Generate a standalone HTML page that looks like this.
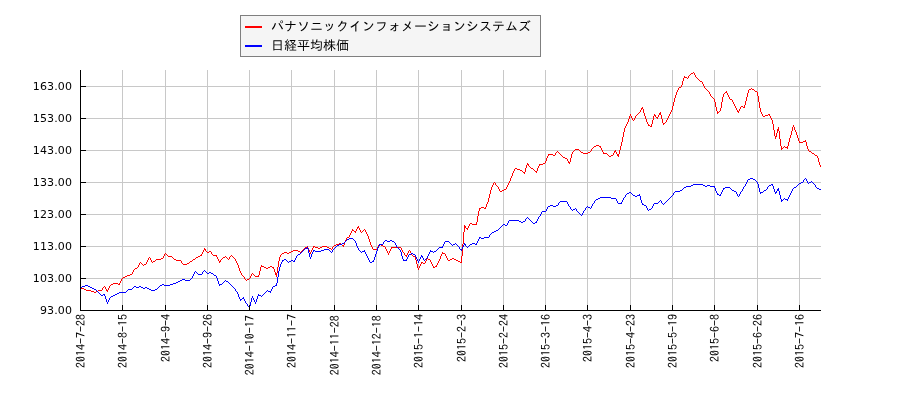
<!DOCTYPE html>
<html lang="ja"><head><meta charset="utf-8"><title>chart</title>
<style>
html,body{margin:0;padding:0;background:#fff;}
body{width:900px;height:400px;overflow:hidden;position:relative;}
svg{position:absolute;left:0;top:0;display:block;}
.yl{font-family:"DejaVu Sans","Liberation Sans",sans-serif;font-size:11px;letter-spacing:0.13px;fill:#000;text-anchor:end;}
.xl{font-family:"IPAGothic","Liberation Mono","Noto Sans CJK JP",monospace;font-size:12px;fill:#000;text-anchor:end;}
.lg{font-family:"Liberation Sans","IPAGothic","Noto Sans CJK JP",sans-serif;font-size:13px;fill:#000;}
</style></head><body>
<svg width="900" height="400" viewBox="0 0 900 400">
<rect x="0" y="0" width="900" height="400" fill="#fff"/>
<g shape-rendering="crispEdges" fill="#c8c8c8">
<rect x="122" y="70" width="1" height="240"/>
<rect x="165" y="70" width="1" height="240"/>
<rect x="207" y="70" width="1" height="240"/>
<rect x="249" y="70" width="1" height="240"/>
<rect x="291" y="70" width="1" height="240"/>
<rect x="334" y="70" width="1" height="240"/>
<rect x="376" y="70" width="1" height="240"/>
<rect x="418" y="70" width="1" height="240"/>
<rect x="461" y="70" width="1" height="240"/>
<rect x="503" y="70" width="1" height="240"/>
<rect x="545" y="70" width="1" height="240"/>
<rect x="587" y="70" width="1" height="240"/>
<rect x="630" y="70" width="1" height="240"/>
<rect x="672" y="70" width="1" height="240"/>
<rect x="714" y="70" width="1" height="240"/>
<rect x="757" y="70" width="1" height="240"/>
<rect x="799" y="70" width="1" height="240"/>
<rect x="81" y="86" width="740" height="1"/>
<rect x="81" y="118" width="740" height="1"/>
<rect x="81" y="150" width="740" height="1"/>
<rect x="81" y="182" width="740" height="1"/>
<rect x="81" y="214" width="740" height="1"/>
<rect x="81" y="246" width="740" height="1"/>
<rect x="81" y="278" width="740" height="1"/>
</g>
<path fill="none" stroke="#ff0000" stroke-width="1" shape-rendering="crispEdges" d="M102.5 288v2M105.5 287v2M106.5 289v2M107.5 290v2M108.5 288v2M109.5 286v2M119.5 283v2M120.5 281v2M121.5 279v2M132.5 272v2M133.5 270v2M138.5 265v2M139.5 263v2M146.5 262v2M147.5 260v2M148.5 258v2M150.5 258v2M151.5 260v2M163.5 256v2M164.5 254v2M181.5 261v2M201.5 254v2M202.5 252v2M203.5 250v2M204.5 248v2M205.5 249v2M211.5 252v2M216.5 255v2M217.5 257v2M218.5 259v2M219.5 261v2M220.5 260v2M229.5 257v2M235.5 259v2M236.5 261v2M237.5 263v2M238.5 265v3M239.5 268v3M240.5 271v2M241.5 273v2M244.5 277v2M250.5 276v2M251.5 274v2M258.5 275v2M259.5 271v4M260.5 267v4M261.5 265v2M273.5 267v2M274.5 269v3M275.5 272v3M276.5 273v4M277.5 267v6M278.5 261v6M279.5 257v4M280.5 255v2M307.5 246v2M308.5 248v2M309.5 250v2M310.5 252v2M311.5 250v2M312.5 248v2M313.5 246v2M332.5 247v2M343.5 245v2M344.5 242v3M345.5 240v2M346.5 238v2M349.5 235v2M350.5 233v2M351.5 231v2M352.5 229v2M355.5 231v2M356.5 229v2M357.5 227v2M358.5 226v2M359.5 228v2M360.5 230v2M365.5 230v2M366.5 232v2M367.5 234v2M368.5 236v3M369.5 239v3M370.5 242v3M371.5 245v2M372.5 247v2M377.5 247v2M378.5 245v2M385.5 247v2M386.5 249v2M387.5 251v2M388.5 253v2M389.5 251v2M390.5 249v2M391.5 247v2M401.5 248v2M402.5 250v2M404.5 253v2M406.5 255v2M407.5 253v2M408.5 251v2M410.5 251v2M411.5 253v2M415.5 257v3M416.5 260v4M417.5 264v4M418.5 268v2M419.5 266v2M420.5 264v2M421.5 262v2M425.5 261v2M426.5 259v2M430.5 260v2M431.5 262v2M432.5 264v2M433.5 266v2M436.5 265v2M437.5 263v2M438.5 261v2M439.5 259v2M440.5 256v3M441.5 254v2M442.5 252v2M445.5 254v2M446.5 256v2M447.5 258v2M461.5 256v7M462.5 244v12M463.5 232v12M464.5 225v7M465.5 226v2M467.5 228v2M468.5 226v2M469.5 224v2M476.5 222v3M477.5 216v6M478.5 211v5M479.5 208v3M485.5 207v2M486.5 204v3M487.5 202v2M488.5 198v4M489.5 194v4M490.5 190v4M491.5 187v3M492.5 185v2M493.5 183v2M495.5 183v2M498.5 187v2M499.5 189v2M506.5 187v2M507.5 185v2M508.5 183v2M509.5 181v2M510.5 178v3M511.5 176v2M512.5 173v3M513.5 171v2M514.5 169v2M524.5 172v2M525.5 168v4M526.5 165v3M527.5 163v2M528.5 164v2M536.5 171v2M537.5 168v3M538.5 166v2M539.5 164v2M545.5 161v2M546.5 158v3M547.5 156v2M548.5 154v2M555.5 153v2M567.5 159v2M568.5 161v2M569.5 162v2M570.5 158v4M571.5 154v4M572.5 152v2M591.5 149v2M600.5 146v2M601.5 148v2M602.5 150v2M603.5 152v2M613.5 153v2M614.5 151v2M615.5 150v2M616.5 152v2M617.5 154v2M618.5 154v3M619.5 150v4M620.5 146v4M621.5 142v4M622.5 137v5M623.5 132v5M624.5 128v4M625.5 126v2M626.5 124v2M627.5 122v2M628.5 119v3M629.5 116v3M630.5 114v2M631.5 116v2M632.5 118v2M634.5 118v2M635.5 116v2M640.5 110v2M641.5 108v2M642.5 107v2M643.5 109v4M644.5 113v3M645.5 116v3M646.5 119v3M647.5 122v2M648.5 124v2M651.5 124v3M652.5 120v4M653.5 116v4M654.5 114v2M655.5 115v2M657.5 117v2M658.5 115v2M659.5 113v2M660.5 112v3M661.5 115v4M662.5 119v4M663.5 123v2M666.5 120v2M667.5 118v2M668.5 116v2M669.5 114v2M670.5 112v2M671.5 110v2M672.5 106v4M673.5 102v4M674.5 98v4M675.5 95v3M676.5 92v3M677.5 90v2M678.5 88v2M681.5 85v2M682.5 81v4M683.5 78v3M684.5 76v2M688.5 76v2M694.5 73v2M695.5 75v2M702.5 82v2M703.5 84v2M704.5 86v2M709.5 92v2M710.5 94v2M714.5 99v3M715.5 102v5M716.5 107v4M717.5 111v3M720.5 108v3M721.5 102v6M722.5 97v5M723.5 94v3M726.5 91v2M727.5 93v2M728.5 95v2M729.5 97v2M732.5 100v2M733.5 102v2M734.5 104v2M735.5 106v2M736.5 108v2M737.5 110v2M738.5 111v2M739.5 109v2M740.5 107v2M744.5 105v3M745.5 101v4M746.5 97v4M747.5 93v4M748.5 90v3M757.5 92v4M758.5 96v6M759.5 102v6M760.5 108v4M761.5 112v2M762.5 114v2M769.5 114v2M770.5 116v2M771.5 118v2M772.5 120v4M773.5 124v6M774.5 130v6M775.5 136v3M776.5 133v4M777.5 129v4M778.5 127v4M779.5 131v8M780.5 139v7M781.5 146v4M787.5 146v3M788.5 142v4M789.5 138v4M790.5 135v3M791.5 131v4M792.5 127v4M793.5 125v2M794.5 127v3M795.5 130v2M796.5 132v3M797.5 135v3M798.5 138v3M799.5 141v2M805.5 140v2M806.5 142v4M807.5 146v3M808.5 149v2M817.5 156v2M818.5 158v4M819.5 162v3M820.5 165v2M693 72.5h1M691 73.5h2M690 74.5h1M689 75.5h1M685 77.5h2M696 77.5h1M687 78.5h1M697 78.5h1M698 79.5h1M699 80.5h1M700 81.5h2M679 87.5h2M705 88.5h1M751 88.5h1M706 89.5h1M749 89.5h2M752 89.5h2M707 90.5h1M754 90.5h1M708 91.5h1M755 91.5h2M725 92.5h1M724 93.5h1M711 96.5h1M712 97.5h1M713 98.5h1M730 99.5h2M741 106.5h2M743 107.5h1M719 111.5h1M639 112.5h1M718 112.5h1M638 113.5h1M637 114.5h1M768 114.5h1M636 115.5h1M765 115.5h3M763 116.5h2M656 117.5h1M633 120.5h1M665 122.5h1M664 123.5h1M649 125.5h1M650 126.5h1M803 141.5h2M800 142.5h3M596 145.5h3M594 146.5h2M599 146.5h1M784 146.5h1M593 147.5h1M783 147.5h1M785 147.5h2M592 148.5h1M782 148.5h1M575 149.5h4M574 150.5h1M579 150.5h1M557 151.5h1M573 151.5h1M580 151.5h1M590 151.5h1M809 151.5h2M556 152.5h1M558 152.5h1M581 152.5h2M588 152.5h2M811 152.5h1M559 153.5h1M583 153.5h5M604 153.5h3M812 153.5h2M549 154.5h4M560 154.5h1M607 154.5h1M814 154.5h1M553 155.5h2M561 155.5h1M608 155.5h1M611 155.5h2M815 155.5h2M562 156.5h1M609 156.5h2M563 157.5h2M565 158.5h2M543 163.5h2M540 164.5h3M529 166.5h1M530 167.5h1M515 168.5h2M531 168.5h2M517 169.5h3M533 169.5h1M520 170.5h2M534 170.5h1M522 171.5h1M535 171.5h1M523 172.5h1M494 182.5h1M496 185.5h1M497 186.5h1M504 189.5h2M502 190.5h2M500 191.5h2M481 207.5h3M480 208.5h1M484 208.5h1M470 223.5h2M472 224.5h4M466 228.5h1M364 229.5h1M353 230.5h1M363 230.5h1M354 231.5h1M362 231.5h1M361 232.5h1M347 237.5h2M339 243.5h2M336 244.5h3M341 244.5h1M379 244.5h2M334 245.5h2M342 245.5h1M381 245.5h2M314 246.5h1M322 246.5h5M333 246.5h1M383 246.5h2M305 247.5h2M315 247.5h3M320 247.5h2M327 247.5h2M392 247.5h9M304 248.5h1M318 248.5h2M329 248.5h2M303 249.5h1M331 249.5h1M373 249.5h4M293 250.5h5M302 250.5h1M409 250.5h1M206 251.5h1M209 251.5h2M291 251.5h2M298 251.5h2M301 251.5h1M207 252.5h2M284 252.5h3M289 252.5h2M300 252.5h1M403 252.5h1M165 253.5h1M282 253.5h2M287 253.5h2M443 253.5h2M166 254.5h1M212 254.5h1M281 254.5h1M167 255.5h1M200 255.5h1M213 255.5h3M231 255.5h1M405 255.5h1M412 255.5h1M168 256.5h4M198 256.5h2M225 256.5h1M230 256.5h1M232 256.5h1M413 256.5h2M149 257.5h1M172 257.5h1M196 257.5h2M223 257.5h2M226 257.5h1M233 257.5h1M161 258.5h2M173 258.5h1M195 258.5h1M222 258.5h1M227 258.5h1M234 258.5h1M427 258.5h1M452 258.5h2M156 259.5h5M174 259.5h2M193 259.5h2M221 259.5h1M228 259.5h1M428 259.5h2M450 259.5h2M454 259.5h2M155 260.5h1M176 260.5h5M192 260.5h1M448 260.5h2M456 260.5h2M153 261.5h2M190 261.5h2M458 261.5h2M140 262.5h1M152 262.5h1M189 262.5h1M422 262.5h1M460 262.5h1M141 263.5h1M182 263.5h1M187 263.5h2M423 263.5h2M142 264.5h1M144 264.5h2M183 264.5h4M143 265.5h1M262 266.5h2M270 266.5h2M435 266.5h1M137 267.5h1M264 267.5h2M268 267.5h2M272 267.5h1M434 267.5h1M135 268.5h2M266 268.5h2M134 269.5h1M252 273.5h1M130 274.5h2M253 274.5h1M127 275.5h3M242 275.5h1M254 275.5h1M125 276.5h2M243 276.5h1M255 276.5h3M123 277.5h2M122 278.5h1M249 278.5h1M245 279.5h1M247 279.5h2M246 280.5h1M113 283.5h5M111 284.5h2M118 284.5h1M110 285.5h1M104 286.5h1M103 287.5h1M80 288.5h4M84 289.5h2M86 290.5h5M98 290.5h4M91 291.5h3M96 291.5h2M94 292.5h2"/>
<path fill="none" stroke="#0000ff" stroke-width="1" shape-rendering="crispEdges" d="M104.5 294v2M105.5 296v3M106.5 299v3M107.5 302v2M108.5 300v2M109.5 298v2M192.5 276v2M193.5 274v2M194.5 272v2M202.5 272v2M216.5 276v2M217.5 278v3M218.5 281v3M219.5 284v2M235.5 289v2M237.5 292v2M238.5 294v3M239.5 297v2M240.5 299v2M243.5 297v2M244.5 299v2M245.5 301v2M247.5 304v2M249.5 306v2M250.5 302v4M251.5 298v4M252.5 296v2M253.5 298v2M254.5 300v2M255.5 302v2M256.5 299v3M257.5 296v3M258.5 294v2M270.5 291v2M271.5 289v2M272.5 287v2M276.5 283v3M277.5 277v6M278.5 271v6M279.5 267v4M280.5 264v3M281.5 262v2M282.5 260v2M294.5 260v2M295.5 258v2M296.5 256v2M307.5 247v2M308.5 249v4M309.5 253v4M310.5 257v2M311.5 254v3M312.5 252v2M313.5 250v2M332.5 250v2M355.5 241v2M356.5 243v3M357.5 246v2M358.5 248v2M364.5 250v2M365.5 252v2M366.5 254v2M367.5 256v2M368.5 258v2M369.5 260v2M373.5 260v2M374.5 257v3M375.5 254v3M376.5 251v3M377.5 248v3M378.5 246v2M379.5 244v2M383.5 242v2M395.5 243v2M396.5 245v2M400.5 250v2M401.5 252v4M402.5 256v3M403.5 259v2M406.5 259v2M407.5 257v2M408.5 255v2M415.5 255v2M416.5 257v2M417.5 259v2M418.5 261v2M419.5 259v2M420.5 257v2M421.5 255v2M422.5 256v2M423.5 258v2M427.5 256v2M428.5 254v2M429.5 252v2M430.5 250v2M442.5 246v2M443.5 244v2M444.5 242v2M459.5 247v2M461.5 249v2M462.5 247v2M463.5 245v2M464.5 243v2M465.5 244v2M476.5 243v2M477.5 241v2M478.5 239v2M479.5 237v2M489.5 235v2M507.5 223v2M508.5 221v2M525.5 219v2M536.5 221v2M537.5 219v2M538.5 217v2M540.5 214v2M541.5 212v2M546.5 209v2M547.5 207v2M558.5 203v2M567.5 202v2M568.5 204v2M570.5 207v2M576.5 209v2M582.5 213v2M583.5 211v2M585.5 208v2M591.5 206v2M592.5 204v2M594.5 201v2M616.5 199v2M617.5 201v2M621.5 202v2M622.5 200v2M623.5 198v2M625.5 195v2M639.5 194v2M640.5 196v4M641.5 200v3M642.5 203v2M646.5 206v2M647.5 208v2M652.5 206v2M653.5 204v2M661.5 201v2M673.5 193v2M714.5 186v2M715.5 188v3M716.5 191v2M717.5 193v2M720.5 194v2M721.5 192v2M722.5 190v2M723.5 188v2M736.5 192v2M737.5 194v2M739.5 194v2M740.5 192v2M742.5 189v2M743.5 187v2M745.5 184v2M746.5 182v2M747.5 180v2M757.5 182v2M758.5 184v4M759.5 188v4M760.5 192v2M767.5 187v2M772.5 184v2M773.5 186v3M774.5 189v3M775.5 192v2M776.5 191v2M777.5 189v2M778.5 188v3M779.5 191v4M780.5 195v4M781.5 199v3M787.5 199v2M788.5 197v2M789.5 195v2M790.5 193v2M791.5 191v2M792.5 189v2M803.5 180v2M806.5 179v2M807.5 181v2M815.5 185v2M750 178.5h3M805 178.5h1M748 179.5h2M753 179.5h2M804 179.5h1M755 180.5h1M756 181.5h1M811 181.5h1M801 182.5h2M809 182.5h2M812 182.5h1M799 183.5h2M808 183.5h1M813 183.5h1M693 184.5h10M771 184.5h1M798 184.5h1M814 184.5h1M691 185.5h2M703 185.5h2M707 185.5h3M769 185.5h2M797 185.5h1M686 186.5h5M705 186.5h2M710 186.5h4M744 186.5h1M768 186.5h1M796 186.5h1M684 187.5h2M725 187.5h5M794 187.5h2M816 187.5h1M683 188.5h1M724 188.5h1M730 188.5h1M793 188.5h1M817 188.5h2M682 189.5h1M731 189.5h1M766 189.5h1M819 189.5h2M680 190.5h2M732 190.5h2M764 190.5h2M675 191.5h5M734 191.5h2M741 191.5h1M763 191.5h1M629 192.5h2M674 192.5h1M761 192.5h2M627 193.5h2M631 193.5h1M626 194.5h1M632 194.5h1M718 194.5h1M633 195.5h2M637 195.5h2M672 195.5h1M719 195.5h1M635 196.5h2M671 196.5h1M738 196.5h1M600 197.5h11M624 197.5h1M670 197.5h1M598 198.5h2M611 198.5h5M669 198.5h1M784 198.5h1M596 199.5h2M668 199.5h1M783 199.5h1M785 199.5h2M595 200.5h1M660 200.5h1M667 200.5h1M782 200.5h1M560 201.5h7M659 201.5h1M666 201.5h1M559 202.5h1M658 202.5h1M665 202.5h1M593 203.5h1M618 203.5h3M654 203.5h4M662 203.5h1M664 203.5h1M643 204.5h1M663 204.5h1M550 205.5h3M556 205.5h2M644 205.5h2M548 206.5h2M553 206.5h3M569 206.5h1M587 206.5h1M586 207.5h1M588 207.5h2M575 208.5h1M590 208.5h1M651 208.5h1M571 209.5h1M573 209.5h2M649 209.5h2M572 210.5h1M584 210.5h1M648 210.5h1M542 211.5h4M577 211.5h1M578 212.5h1M579 213.5h1M580 214.5h1M581 215.5h1M539 216.5h1M527 217.5h1M526 218.5h1M528 218.5h1M529 219.5h1M509 220.5h10M530 220.5h1M519 221.5h2M523 221.5h2M531 221.5h1M521 222.5h2M532 222.5h1M535 222.5h1M533 223.5h2M503 224.5h2M502 225.5h1M505 225.5h2M501 226.5h1M500 227.5h1M499 228.5h1M498 229.5h1M496 230.5h2M494 231.5h2M492 232.5h2M491 233.5h1M490 234.5h1M480 237.5h1M484 237.5h5M349 238.5h4M481 238.5h3M347 239.5h2M353 239.5h1M346 240.5h1M354 240.5h1M385 240.5h2M390 240.5h2M345 241.5h1M384 241.5h1M387 241.5h3M392 241.5h2M445 241.5h4M344 242.5h1M394 242.5h1M449 242.5h1M342 243.5h2M450 243.5h1M455 243.5h1M472 243.5h3M339 244.5h3M380 244.5h3M451 244.5h1M453 244.5h2M456 244.5h1M470 244.5h2M475 244.5h1M337 245.5h2M452 245.5h1M457 245.5h1M469 245.5h1M336 246.5h1M458 246.5h1M466 246.5h1M468 246.5h1M335 247.5h1M397 247.5h1M439 247.5h3M467 247.5h1M305 248.5h2M334 248.5h1M398 248.5h1M438 248.5h1M304 249.5h1M324 249.5h5M333 249.5h1M399 249.5h1M437 249.5h1M460 249.5h1M303 250.5h1M314 250.5h1M321 250.5h3M329 250.5h1M359 250.5h1M436 250.5h1M302 251.5h1M315 251.5h6M330 251.5h1M360 251.5h1M362 251.5h2M431 251.5h2M434 251.5h2M301 252.5h1M331 252.5h1M361 252.5h1M433 252.5h1M300 253.5h1M411 253.5h2M298 254.5h2M409 254.5h2M413 254.5h2M297 255.5h1M426 258.5h1M284 259.5h2M425 259.5h1M283 260.5h1M286 260.5h1M291 260.5h2M404 260.5h2M424 260.5h1M287 261.5h1M289 261.5h2M293 261.5h1M372 261.5h1M288 262.5h1M370 262.5h2M204 270.5h1M195 271.5h1M203 271.5h1M205 271.5h1M196 272.5h1M206 272.5h1M209 272.5h2M197 273.5h1M207 273.5h2M211 273.5h2M198 274.5h4M213 274.5h1M214 275.5h2M191 278.5h1M182 279.5h3M190 279.5h1M180 280.5h2M185 280.5h5M225 280.5h1M178 281.5h2M224 281.5h1M226 281.5h2M176 282.5h2M223 282.5h1M228 282.5h1M173 283.5h3M222 283.5h1M229 283.5h1M162 284.5h2M170 284.5h3M220 284.5h2M230 284.5h1M85 285.5h3M160 285.5h2M164 285.5h6M231 285.5h1M275 285.5h1M82 286.5h3M88 286.5h2M134 286.5h2M139 286.5h2M159 286.5h1M232 286.5h1M273 286.5h2M80 287.5h2M90 287.5h2M133 287.5h1M136 287.5h3M141 287.5h2M145 287.5h2M158 287.5h1M233 287.5h1M92 288.5h2M132 288.5h1M143 288.5h2M147 288.5h2M157 288.5h1M234 288.5h1M94 289.5h2M128 289.5h4M149 289.5h2M155 289.5h2M96 290.5h1M127 290.5h1M151 290.5h4M267 290.5h1M97 291.5h1M126 291.5h1M236 291.5h1M266 291.5h1M268 291.5h2M98 292.5h1M119 292.5h7M265 292.5h1M99 293.5h1M117 293.5h2M264 293.5h1M100 294.5h1M103 294.5h1M115 294.5h2M263 294.5h1M101 295.5h2M113 295.5h2M259 295.5h2M262 295.5h1M111 296.5h2M261 296.5h1M110 297.5h1M242 298.5h1M241 299.5h1M246 303.5h1M248 306.5h1"/>
<g shape-rendering="crispEdges" fill="#000">
<rect x="80" y="70" width="1" height="241"/>
<rect x="80" y="310" width="741" height="1"/>
<rect x="81" y="86" width="5" height="1"/>
<rect x="81" y="118" width="5" height="1"/>
<rect x="81" y="150" width="5" height="1"/>
<rect x="81" y="182" width="5" height="1"/>
<rect x="81" y="214" width="5" height="1"/>
<rect x="81" y="246" width="5" height="1"/>
<rect x="81" y="278" width="5" height="1"/>
<rect x="122" y="305" width="1" height="5"/>
<rect x="165" y="305" width="1" height="5"/>
<rect x="207" y="305" width="1" height="5"/>
<rect x="249" y="305" width="1" height="5"/>
<rect x="291" y="305" width="1" height="5"/>
<rect x="334" y="305" width="1" height="5"/>
<rect x="376" y="305" width="1" height="5"/>
<rect x="418" y="305" width="1" height="5"/>
<rect x="461" y="305" width="1" height="5"/>
<rect x="503" y="305" width="1" height="5"/>
<rect x="545" y="305" width="1" height="5"/>
<rect x="587" y="305" width="1" height="5"/>
<rect x="630" y="305" width="1" height="5"/>
<rect x="672" y="305" width="1" height="5"/>
<rect x="714" y="305" width="1" height="5"/>
<rect x="757" y="305" width="1" height="5"/>
<rect x="799" y="305" width="1" height="5"/>
</g>
<text class="yl" x="72.1" y="89.6">163.00</text>
<text class="yl" x="72.1" y="121.6">153.00</text>
<text class="yl" x="72.1" y="153.6">143.00</text>
<text class="yl" x="72.1" y="185.6">133.00</text>
<text class="yl" x="72.1" y="217.6">123.00</text>
<text class="yl" x="72.1" y="249.6">113.00</text>
<text class="yl" x="72.1" y="281.6">103.00</text>
<text class="yl" x="72.1" y="313.6">93.00</text>
<text class="xl" transform="translate(84.6,314) rotate(-90)">2014-7-28</text>
<text class="xl" transform="translate(126.6,314) rotate(-90)">2014-8-15</text>
<text class="xl" transform="translate(169.6,314) rotate(-90)">2014-9-4</text>
<text class="xl" transform="translate(211.6,314) rotate(-90)">2014-9-26</text>
<text class="xl" transform="translate(253.6,315.3) rotate(-90)">2014-10-17</text>
<text class="xl" transform="translate(295.6,314) rotate(-90)">2014-11-7</text>
<text class="xl" transform="translate(338.6,315.3) rotate(-90)">2014-11-28</text>
<text class="xl" transform="translate(380.6,315.3) rotate(-90)">2014-12-18</text>
<text class="xl" transform="translate(422.6,314) rotate(-90)">2015-1-14</text>
<text class="xl" transform="translate(465.6,314) rotate(-90)">2015-2-3</text>
<text class="xl" transform="translate(507.6,314) rotate(-90)">2015-2-24</text>
<text class="xl" transform="translate(549.6,314) rotate(-90)">2015-3-16</text>
<text class="xl" transform="translate(591.6,314) rotate(-90)">2015-4-3</text>
<text class="xl" transform="translate(634.6,314) rotate(-90)">2015-4-23</text>
<text class="xl" transform="translate(676.6,314) rotate(-90)">2015-5-19</text>
<text class="xl" transform="translate(718.6,314) rotate(-90)">2015-6-8</text>
<text class="xl" transform="translate(761.6,314) rotate(-90)">2015-6-26</text>
<text class="xl" transform="translate(803.6,314) rotate(-90)">2015-7-16</text>
<g shape-rendering="crispEdges"><rect x="240.5" y="15.5" width="300" height="41" fill="#f5f5f5" stroke="#7f7f7f" stroke-width="1"/>
<rect x="245" y="26" width="17" height="2" fill="#ff0000"/><rect x="245" y="45" width="17" height="2" fill="#0000ff"/></g>
<text class="lg" x="271" y="30.7">パナソニックインフォメーションシステムズ</text>
<text class="lg" x="271" y="50.1">日経平均株価</text>
</svg></body></html>
